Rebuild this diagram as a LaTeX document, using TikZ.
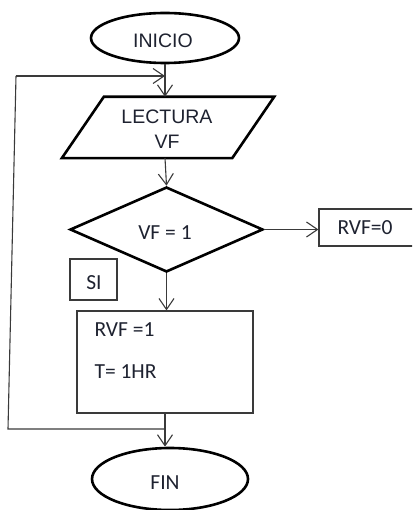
\documentclass[tikz,border=0pt]{standalone}
\usepackage{fontspec}
\newfontfamily\arialf{Liberation Sans}
\newfontfamily\calf{Carlito}
\usetikzlibrary{shapes.geometric,arrows.meta,calc}
\definecolor{ink}{HTML}{1E2230}
\definecolor{wire}{HTML}{3A3A3A}
\tikzset{
  thickline/.style={draw=black,line width=2.6pt},
  terminal/.style={ellipse,thickline,inner sep=0pt},
  decision/.style={diamond,thickline,inner sep=0pt,aspect=2.27},
  plainbox/.style={rectangle,draw=wire,line width=1.1pt,inner sep=0pt},
  arialtxt/.style={text=ink,font=\arialf\fontsize{19.5}{25}\selectfont},
  caltxt/.style={text=ink,font=\calf\fontsize{21.5}{26}\selectfont},
  flow/.style={draw=wire,line width=1.1pt,-{Straight Barb[length=11pt,width=15pt,line width=1.1pt]}},
  wireline/.style={draw=wire,line width=1.1pt}
}
\begin{document}
\begin{tikzpicture}[x=1pt,y=-1pt]
\useasboundingbox (0,0) rectangle (412,510);
\clip (0,0) rectangle (412,510);

% start and end terminals
\node[terminal,minimum width=148,minimum height=50,arialtxt] (ini) at (165,38) {};
\node[arialtxt] (initxt) at (163,41) {INICIO};
\node[terminal,minimum width=156,minimum height=62,caltxt] (fin) at (170,479) {};
\node[caltxt] (fintxt) at (165,483) {FIN};

% input parallelogram (text node plus slanted outline)
\node[rectangle,minimum width=170,minimum height=61,inner sep=0pt] (lect) at (168,127.5) {};
\draw[thickline,line join=miter]
  ($(lect.north west)+(21,0)$) -- ($(lect.north east)+(21,0)$) --
  ($(lect.south east)-(21,0)$) -- ($(lect.south west)-(21,0)$) -- cycle;
\node[arialtxt] (lect1) at (167,117) {LECTURA};
\node[arialtxt] (lect2) at (167,142) {VF};

% decision
\node[decision,minimum width=193,minimum height=85] (dia) at (166.5,229.5) {};
\node[caltxt] (diatxt) at (165,233) {VF = 1};

% outcome boxes
\node[plainbox,minimum width=101,minimum height=37] (rvf0) at (369.5,227.5) {};
\node[caltxt,anchor=west] (rvf0txt) at (334,228) {RVF=0};
\node[plainbox,minimum width=47,minimum height=41] (si) at (93.5,279.5) {};
\node[caltxt] (sitxt) at (94,283) {SI};
\node[plainbox,minimum width=176,minimum height=102] (act) at (165,362) {};
\node[caltxt,anchor=west] (act1) at (91,330) {RVF =1};
\node[caltxt,anchor=west] (act2) at (91,372) {T= 1HR};

% connectors
\draw[flow] (ini.south) -- (ini.south |- lect.north);
\draw[flow] (165,158) -- (dia.north);
\draw[flow] (dia.east) -- (dia.east -| rvf0.west);
\draw[flow] (dia.south) -- (dia.south |- act.north);
\draw[flow] (act.south) -- (act.south |- fin.north);

% loop back to the input step
\coordinate (jb) at (165,429);
\coordinate (lb) at (8,429);
\coordinate (lt) at (16,76);
\coordinate (jt) at (165,76);
\draw[wireline] (jb) -- (lb) -- (lt);
\draw[flow] (lt) -- (jt);
\end{tikzpicture}
\end{document}
